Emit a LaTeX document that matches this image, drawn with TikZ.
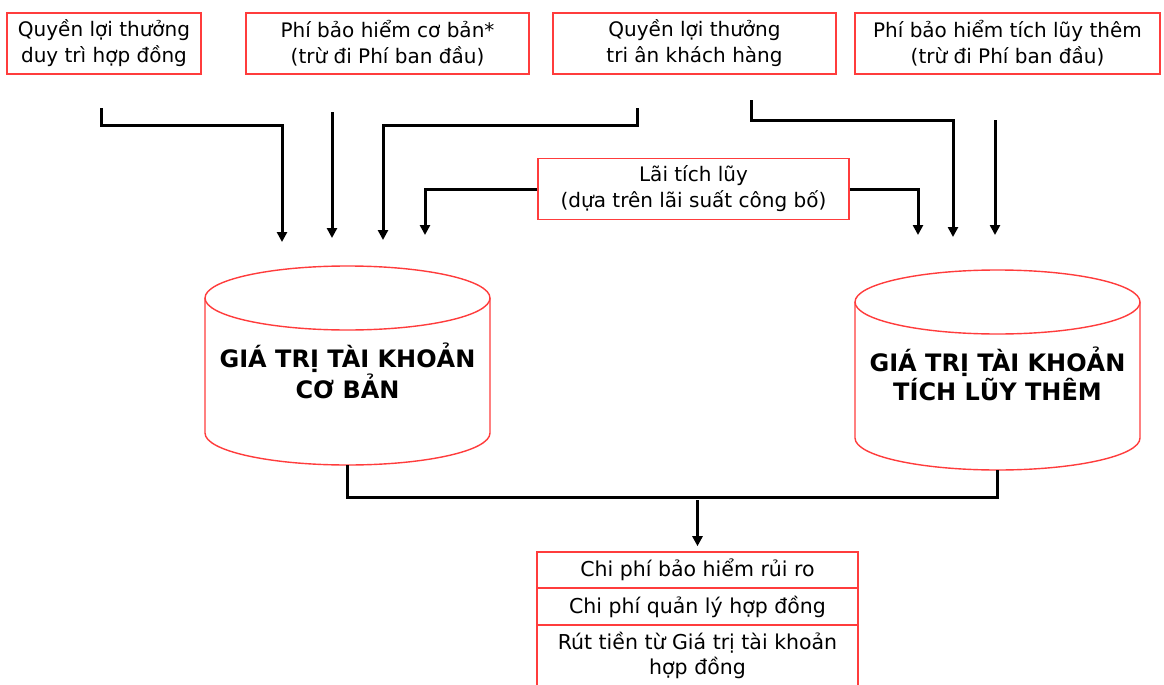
\documentclass[tikz,border=0pt]{standalone}
\usepackage{fontspec}
\setmainfont{DejaVu Sans}
\usetikzlibrary{arrows.meta}

\definecolor{khung}{RGB}{255,60,60}

\tikzset{
  hop/.style={draw=khung, line width=1.6pt, align=center, inner sep=0pt,
    minimum height=61pt, font=\fontsize{20}{26}\selectfont},
  dong/.style={draw=khung, line width=1.6pt, align=center, inner sep=0pt,
    minimum width=321pt, font=\fontsize{20.5}{25}\selectfont},
  tieude/.style={align=center, font=\bfseries\fontsize{24}{29}\selectfont},
  tru/.style={draw=khung, line width=1.4pt, fill=white},
  duong/.style={line width=3pt},
  muiten/.style={line width=3pt, -{Triangle[length=10pt,width=10pt]}}
}

\begin{document}
\begin{tikzpicture}[x=1pt, y=-1pt]
		\useasboundingbox (0,0) rectangle (1164,685);

		% cac o phia tren
		\node[hop, minimum width=194pt] (qduytri) at (104,43.5) {Quyền lợi thưởng\\duy trì hợp đồng};
		\node[hop, minimum width=283pt] (pbhcb) at (387.5,43.5) {Phí bảo hiểm cơ bản*\\(trừ đi Phí ban đầu)};
		\node[hop, minimum width=283pt] (qtrian) at (694.5,43.5) {Quyền lợi thưởng\\tri ân khách hàng};
		\node[hop, minimum width=305pt] (pbhtl) at (1007.5,43.5) {Phí bảo hiểm tích lũy thêm\\(trừ đi Phí ban đầu)};
		\node[hop, minimum width=311pt] (laitl) at (693.5,189) {Lãi tích lũy\\(dựa trên lãi suất công bố)};

		% hai tru
		\draw[tru] (205,298) -- (205,433) arc[start angle=180, end angle=0, x radius=142.5, y radius=32] -- (490,298);
		\draw[tru] (347.5,298) ellipse [x radius=142.5, y radius=32];
		\draw[tru] (855,302) -- (855,438) arc[start angle=180, end angle=0, x radius=142.5, y radius=32] -- (1140,302);
		\draw[tru] (997.5,302) ellipse [x radius=142.5, y radius=32];
		\node[tieude] (gtcb) at (347.5,371) {GIÁ TRỊ TÀI KHOẢN\\CƠ BẢN};
		\node[tieude] (gttl) at (997.5,374) {GIÁ TRỊ TÀI KHOẢN\\TÍCH LŨY THÊM};

		% cac o chi phi
		\node[dong, minimum height=36pt] (cprr) at (697.5,570) {Chi phí bảo hiểm rủi ro};
		\node[dong, minimum height=37pt] (cpql) at (697.5,606.5) {Chi phí quản lý hợp đồng};
		\node[dong, minimum height=61pt] (ruttien) at (697.5,655.5) {Rút tiền từ Giá trị tài khoản\\hợp đồng};

		% diem dau, diem cuoi
		\coordinate (d1) at (101,108);  \coordinate (c1) at (282,242);
		\coordinate (d2) at (332,112);  \coordinate (c2) at (332,238);
		\coordinate (d3) at (637,108);  \coordinate (c3) at (383,240);
		\coordinate (c4) at (425,235);  \coordinate (c5) at (918,235);
		\coordinate (d6) at (751,100);  \coordinate (c6) at (953,237);
		\coordinate (d7) at (995,120);  \coordinate (c7) at (995,235);
		\coordinate (daycb) at (347.5,465);
		\coordinate (daytl) at (997.5,470);
		\coordinate (noi) at (697.5,497);

		\draw[muiten] (d1) -- ++(0,17) -| (c1);
		\draw[muiten] (d2) -- (c2);
		\draw[muiten] (d3) -- ++(0,17) -| (c3);
		\draw[muiten] (laitl.west) -| (c4);
		\draw[muiten] (laitl.east) -| (c5);
		\draw[muiten] (d6) -- ++(0,20) -| (c6);
		\draw[muiten] (d7) -- (c7);

		\draw[duong] (daycb) |- (noi) -| (daytl);
		\draw[muiten, shorten <=3pt, shorten >=5pt] (noi) -- (cprr.north);
\end{tikzpicture}
\end{document}
